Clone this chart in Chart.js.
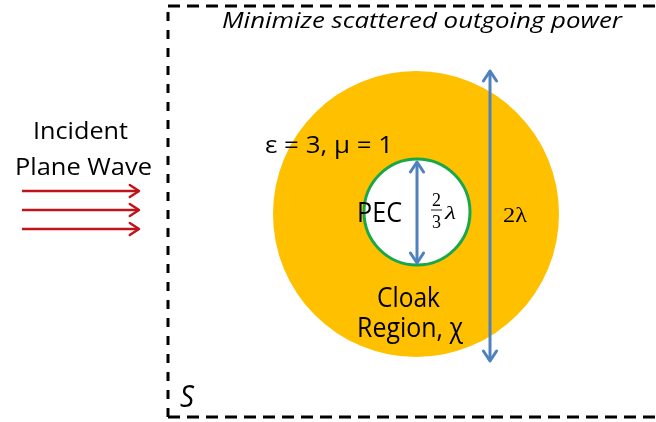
<!DOCTYPE html>
<html>
<head>
<meta charset="utf-8">
<script src="https://cdn.jsdelivr.net/npm/chart.js@4"></script>
<style>
  html, body { margin: 0; padding: 0; background: #fff; }
</style>
</head>
<body>
<canvas id="myChart" width="656" height="422"></canvas>
<script>
// diagram space = page pixels (y grows downward)
const spanX = [0, 656];
const spanY = [0, 422];

// cloak (outer) and PEC (inner) circles
const circleX = [416, 417];
const circleY = [214, 212];
const circleR = [143, 53];

// arrows: incident waves (3), PEC size, cloak size
const arrowX1 = [22, 22, 22, 417, 490];
const arrowY1 = [191, 210, 229, 162, 71];
const arrowX2 = [139, 139, 139, 417, 490];
const arrowY2 = [191, 210, 229, 263, 361];
const arrowBoth = [false, false, false, true, true];

// dashed boundary S (right side runs off the page)
const frameX = [168, 660];
const frameY = [6, 417];

// fraction bar of 2/3
const barX = [431, 442];
const barY = 210;

// labels: text, left, right, baseline, cap height
const labelText = ['Minimize scattered outgoing power', 'Incident', 'Plane Wave', 'ε = 3, μ = 1',
  'PEC', 'Cloak', 'Region, χ', 'S', '2', '3', 'λ', '2λ'];
const labelLeft = [222, 33, 15, 265, 357, 377, 357, 180, 432, 432, 445, 503];
const labelRight = [622, 128, 152, 393, 402, 440, 463, 194, 441, 441, 456, 527];
const labelBase = [28, 139, 175, 153, 222, 307, 337, 407, 206, 228, 219, 222];
const labelCap = [16, 17, 17, 17, 19, 20, 20, 22, 12, 12, 12, 14];
const labelSerif = [false, false, false, false, false, false, false, false, true, true, true, true];
const labelItalic = [true, false, false, false, false, false, false, true, false, false, true, false];

const orange = '#FFC000';
const green = '#18A84A';
const blue = '#4F81BD';
const red = '#C0141B';

const arrowColor = i => (i < 3 ? red : blue);

const datasets = [];

// circles through bubble elements (radius in px, 1:1 scale)
circleX.forEach((cx, i) => {
    datasets.push({
        type: 'bubble',
        data: [{ x: cx, y: circleY[i], r: circleR[i] }],
        backgroundColor: i === 0 ? orange : '#ffffff',
        borderColor: i === 0 ? orange : green,
        borderWidth: i === 0 ? 0 : 3,
        hoverRadius: 0,
        order: 10 - i
    });
});

// arrow shafts
arrowX1.forEach((x1, i) => {
    datasets.push({
        type: 'line',
        arrow: true,
        both: arrowBoth[i],
        data: [{ x: x1, y: arrowY1[i] }, { x: arrowX2[i], y: arrowY2[i] }],
        borderColor: arrowColor(i),
        borderWidth: i < 3 ? 2.5 : 3,
        pointRadius: 0,
        fill: false,
        order: 2
    });
});

// fraction bar
datasets.push({
    type: 'line',
    data: [{ x: barX[0], y: barY }, { x: barX[1], y: barY }],
    borderColor: '#222',
    borderWidth: 1,
    pointRadius: 0,
    order: 2
});

// frame: top, left (drawn from the corner up), bottom
const frameLines = [
    [{ x: frameX[0], y: frameY[0] }, { x: frameX[1], y: frameY[0] }],
    [{ x: frameX[0], y: frameY[1] }, { x: frameX[0], y: frameY[0] }],
    [{ x: frameX[0], y: frameY[1] }, { x: frameX[1], y: frameY[1] }]
];
frameLines.forEach((pts, i) => {
    datasets.push({
        type: 'line',
        data: pts,
        borderColor: '#000',
        borderWidth: 3,
        borderDash: i === 1 ? [9, 9] : [12, 7],
        borderCapStyle: 'butt',
        pointRadius: 0,
        order: 1
    });
});

const arrowHeads = {
    id: 'arrowHeads',
    afterDatasetsDraw(chart) {
        const ctx = chart.ctx;
        chart.data.datasets.forEach((ds, i) => {
            if (!ds.arrow) return;
            const pts = chart.getDatasetMeta(i).data;
            const ends = ds.both ? [[pts[0], pts[1]], [pts[1], pts[0]]] : [[pts[1], pts[0]]];
            ctx.save();
            ctx.strokeStyle = ds.borderColor;
            ctx.lineWidth = ds.borderWidth;
            ctx.lineCap = 'round';
            ctx.lineJoin = 'round';
            ends.forEach(([tip, tail]) => {
                const ang = Math.atan2(tip.y - tail.y, tip.x - tail.x);
                const len = ds.both ? 12 : 11, wing = 0.58;
                ctx.beginPath();
                ctx.moveTo(tip.x - len * Math.cos(ang - wing), tip.y - len * Math.sin(ang - wing));
                ctx.lineTo(tip.x, tip.y);
                ctx.lineTo(tip.x - len * Math.cos(ang + wing), tip.y - len * Math.sin(ang + wing));
                ctx.stroke();
            });
            ctx.restore();
        });
    }
};

const labels = {
    id: 'labels',
    afterDatasetsDraw(chart) {
        const ctx = chart.ctx;
        const sx = chart.scales.x, sy = chart.scales.y;
        labelText.forEach((txt, i) => {
            const left = sx.getPixelForValue(labelLeft[i]);
            const right = sx.getPixelForValue(labelRight[i]);
            const base = sy.getPixelForValue(labelBase[i]);
            const cap = sy.getPixelForValue(labelBase[i]) - sy.getPixelForValue(labelBase[i] - labelCap[i]);
            const size = labelSerif[i] ? cap / 0.66 : cap / 0.714;
            const fam = labelSerif[i] ? '"Liberation Serif", "DejaVu Serif", serif' : '"Open Sans", sans-serif';
            ctx.save();
            ctx.font = (labelItalic[i] ? 'italic ' : '') + size.toFixed(1) + 'px ' + fam;
            ctx.fillStyle = '#000';
            ctx.textBaseline = 'alphabetic';
            ctx.textAlign = 'left';
            const w = ctx.measureText(txt).width;
            ctx.translate(left, base);
            ctx.scale((right - left) / w, 1);
            ctx.fillText(txt, 0, 0);
            ctx.restore();
        });
    }
};

new Chart(document.getElementById('myChart'), {
    type: 'scatter',
    data: { datasets: datasets },
    options: {
        responsive: false,
        devicePixelRatio: 1,
        animation: false,
        layout: { padding: 0, autoPadding: false },
        events: [],
        plugins: { legend: { display: false }, tooltip: { enabled: false } },
        scales: {
            x: { type: 'linear', min: spanX[0], max: spanX[1], display: false },
            y: { type: 'linear', min: spanY[0], max: spanY[1], reverse: true, display: false }
        }
    },
    plugins: [arrowHeads, labels]
});
</script>
</body>
</html>
